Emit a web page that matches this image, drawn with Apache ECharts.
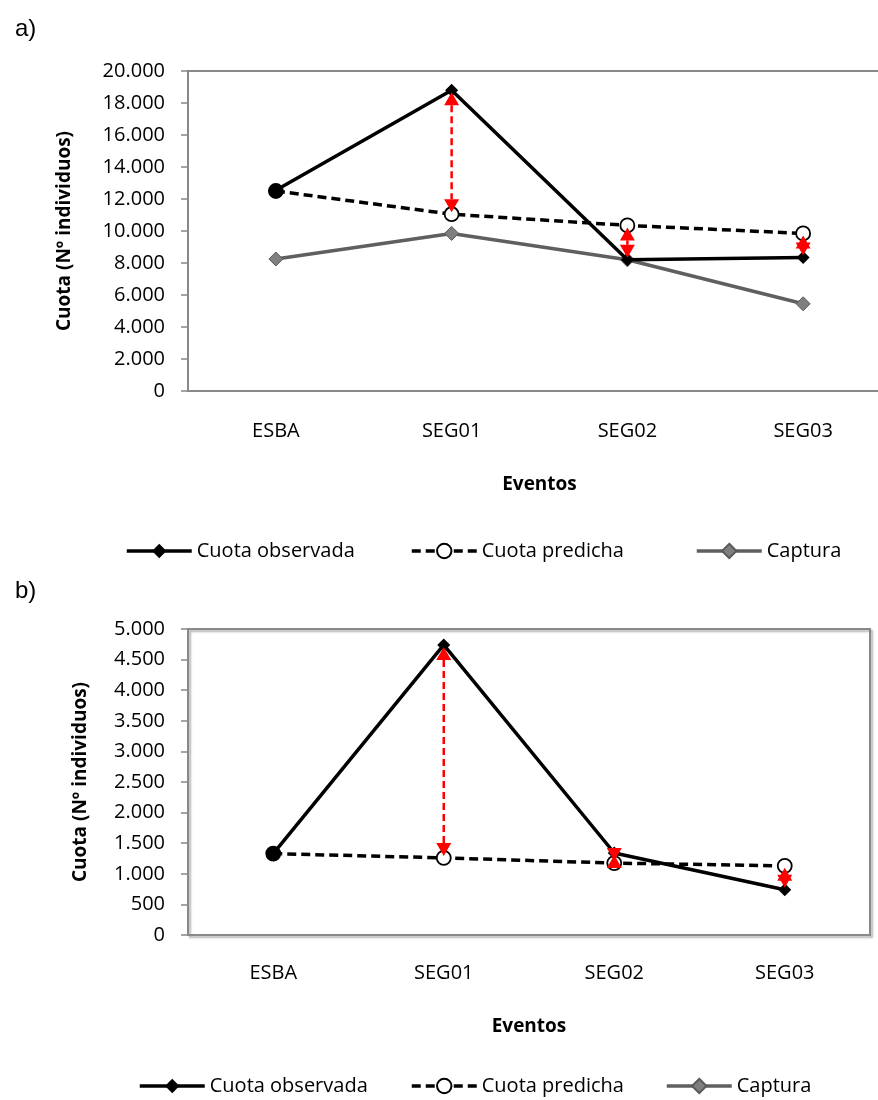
<!DOCTYPE html>
<html>
<head>
<meta charset="utf-8">
<script src="https://cdn.jsdelivr.net/npm/echarts@6/dist/echarts.min.js"></script>
<style>
html,body{margin:0;padding:0;background:#fff;overflow:hidden;width:878px;height:1100px;}
#c{width:910px;height:1100px;}
</style>
</head>
<body>
<div id="c"></div>
<script>
// ---- data ----
const categories = ['ESBA', 'SEG01', 'SEG02', 'SEG03'];
const observedA = [12550, 18800, 8200, 8350];
const predictedA = [12500, 11050, 10350, 9850];
const captureA = [8250, 9850, 8200, 5450];
const observedB = [1330, 4740, 1340, 740];
const predictedB = [1330, 1260, 1175, 1130];
const captureB = [null, null, null, null];
const yTicksA = { min: 0, max: 20000, interval: 2000 };
const yTicksB = { min: 0, max: 5000, interval: 500 };
const arrowCats = [1, 2, 3];

const FONT = '"Open Sans", "Liberation Sans", sans-serif';
const fmt = v => String(v).replace(/\B(?=(\d{3})+(?!\d))/g, '.');

function arrowData(obs, pred) {
  return arrowCats.map(i => [i, obs[i], pred[i]]);
}

function renderArrow(params, api) {
  const x = api.value(0);
  const p1 = api.coord([x, api.value(1)]);
  const p2 = api.coord([x, api.value(2)]);
  const dir = p2[1] > p1[1] ? 1 : -1;
  const h = 13, w = 7.5, inset = 2;
  const t1 = p1[1] + dir * inset, t2 = p2[1] - dir * inset;
  return {
    type: 'group',
    children: [
      { type: 'line', shape: { x1: p1[0], y1: t1 + dir * h, x2: p2[0], y2: t2 - dir * h },
        style: { stroke: '#ff0000', lineWidth: 2.5, lineDash: [7, 4] } },
      { type: 'polygon', shape: { points: [[p1[0], t1], [p1[0] - w, t1 + dir * h], [p1[0] + w, t1 + dir * h]] },
        style: { fill: '#ff0000' } },
      { type: 'polygon', shape: { points: [[p2[0], t2], [p2[0] - w, t2 - dir * h], [p2[0] + w, t2 - dir * h]] },
        style: { fill: '#ff0000' } }
    ]
  };
}

function seriesFor(idx, obs, pred, cap) {
  return [
    { name: 'Cuota observada', type: 'line', xAxisIndex: idx, yAxisIndex: idx, data: obs,
      symbol: 'diamond', symbolSize: 13, showAllSymbol: true,
      lineStyle: { color: '#000', width: 3.5 }, itemStyle: { color: '#000' }, z: 3 },
    { name: 'Cuota predicha', type: 'line', xAxisIndex: idx, yAxisIndex: idx,
      data: pred.map((v, i) => i === 0 ? { value: v, itemStyle: { color: '#000' } } : v),
      symbol: 'circle', symbolSize: 14, showAllSymbol: true,
      lineStyle: { color: '#000', width: 3.5, type: [9, 5] },
      itemStyle: { color: '#fff', borderColor: '#000', borderWidth: 1.8 }, z: 2 },
    { name: 'Captura', type: 'line', xAxisIndex: idx, yAxisIndex: idx, data: cap,
      symbol: 'diamond', symbolSize: 14, showAllSymbol: true,
      lineStyle: { color: '#5f5f5f', width: 3.5 },
      itemStyle: { color: '#7f7f7f', borderColor: '#5a5a5a', borderWidth: 1 }, z: 1 },
    { type: 'custom', xAxisIndex: idx, yAxisIndex: idx, data: arrowData(obs, pred),
      encode: { x: 0, y: [1, 2] }, renderItem: renderArrow, z: 10, silent: true }
  ];
}

function yAxisFor(idx, t, nameGap) {
  return {
    gridIndex: idx, type: 'value', min: t.min, max: t.max, interval: t.interval,
    name: 'Cuota (Nº individuos)', nameLocation: 'middle', nameGap: nameGap,
    nameTextStyle: { fontFamily: FONT, fontSize: 19, fontWeight: 'bold', color: '#000' },
    axisLine: { show: true, lineStyle: { color: '#888', width: 2 } },
    axisTick: { show: true, length: 7, lineStyle: { color: '#888', width: 1.5 } },
    axisLabel: { fontFamily: FONT, fontSize: 20, color: '#000', margin: 23, formatter: fmt },
    splitLine: { show: false }
  };
}

function xAxisFor(idx, labelMargin, nameGap) {
  return {
    gridIndex: idx, type: 'category', data: categories, boundaryGap: true,
    name: 'Eventos', nameLocation: 'middle', nameGap: nameGap,
    nameTextStyle: { fontFamily: FONT, fontSize: 19, fontWeight: 'bold', color: '#000' },
    axisLine: { show: true, lineStyle: { color: '#888', width: 2 } },
    axisTick: { show: false },
    axisLabel: { fontFamily: FONT, fontSize: 20, color: '#000', margin: labelMargin }
  };
}

function legendFor(name, left, top) {
  return {
    data: [name], left: left, top: top, itemWidth: 65, itemHeight: 18, itemGap: 5,
    lineStyle: { width: 3.5 },
    textStyle: { fontFamily: FONT, fontSize: 20, color: '#000' }, selectedMode: false
  };
}

const option = {
  backgroundColor: '#fff',
  animation: false,
  title: [
    { text: 'a)', left: 10, top: 12, textStyle: { fontFamily: '"Liberation Sans", sans-serif', fontSize: 24, fontWeight: 'normal', color: '#000' } },
    { text: 'b)', left: 10, top: 574, textStyle: { fontFamily: '"Liberation Sans", sans-serif', fontSize: 24, fontWeight: 'normal', color: '#000' } }
  ],
  grid: [
    { left: 188, top: 71, width: 703, height: 320, show: true, borderColor: '#888', borderWidth: 2, containLabel: false },
    { left: 188, top: 629, width: 682, height: 306, show: true, borderColor: '#888', borderWidth: 2, containLabel: false,
      shadowColor: 'rgba(0,0,0,0.3)', shadowBlur: 2, shadowOffsetX: 2, shadowOffsetY: 2 }
  ],
  xAxis: [xAxisFor(0, 30, 84), xAxisFor(1, 28, 82)],
  yAxis: [yAxisFor(0, yTicksA, 114), yAxisFor(1, yTicksB, 98)],
  legend: [
    legendFor('Cuota observada', 120, 536),
    legendFor('Cuota predicha', 405, 536),
    legendFor('Captura', 690, 536),
    legendFor('Cuota observada', 133, 1071),
    legendFor('Cuota predicha', 405, 1071),
    legendFor('Captura', 660, 1071)
  ],
  series: [].concat(seriesFor(0, observedA, predictedA, captureA), seriesFor(1, observedB, predictedB, captureB))
};

const chart = echarts.init(document.getElementById('c'), null, { renderer: 'canvas' });
chart.setOption(option);
</script>
</body>
</html>
